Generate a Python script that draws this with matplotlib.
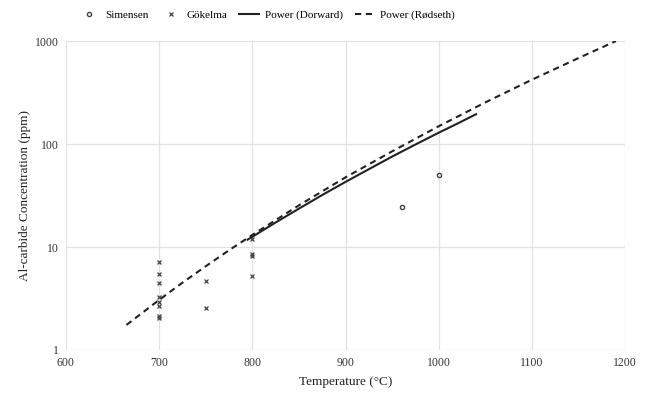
import matplotlib
matplotlib.use("Agg")
import matplotlib.pyplot as plt
from matplotlib.ticker import FixedLocator, FixedFormatter

plt.rcParams['font.family'] = ['Liberation Serif', 'DejaVu Serif']

# Simensen measurements
sim_t = [960, 1000]
sim_c = [24.3, 50.5]

# Gökelma measurements
gok_t = [700, 700, 700, 700, 700, 700, 700, 700, 750, 750, 800, 800, 800, 800]
gok_c = [7.15, 5.45, 4.45, 3.25, 2.9, 2.7, 2.15, 2.05, 4.7, 2.55, 12.0, 8.6, 8.1, 5.25]

# power trend lines
dor_t = [795, 825, 850, 875, 900, 925, 950, 975, 1000, 1020, 1040]
dor_c = [11.8, 17.3, 23.6, 32.0, 42.9, 57.0, 75.6, 99.0, 129.0, 158.0, 195.0]

rod_t = [665, 700, 725, 750, 775, 800, 850, 900, 950, 1000, 1050, 1100, 1150, 1190]
rod_c = [1.75, 3.06, 4.5, 6.5, 9.3, 13.1, 25.4, 47.5, 85.0, 149.0, 254.0, 422.0, 685.0, 1000.0]

x_ticks = [600, 700, 800, 900, 1000, 1100, 1200]
y_ticks = [1, 10, 100, 1000]
y_labels = ['1', '10', '100', '1000']

fig = plt.figure(figsize=(6.52, 3.95), dpi=100)
ax = fig.add_axes([0.101, 0.114, 0.858, 0.782])

ax.plot(sim_t, sim_c, 'o', ms=3, mfc='none', mec='#444444', mew=1.0, label='Simensen')
ax.plot(gok_t, gok_c, 'x', ms=3.5, color='#444444', mew=0.9, label='Gökelma')
ax.plot(dor_t, dor_c, '-', color='#222222', lw=1.5, label='Power (Dorward)')
ax.plot(rod_t, rod_c, '--', color='#222222', lw=1.5, dashes=(3, 2.2), label='Power (Rødseth)')

ax.set_yscale('log')
ax.set_xlim(600, 1200)
ax.set_ylim(1, 1000)
ax.set_xticks(x_ticks)
ax.yaxis.set_major_locator(FixedLocator(y_ticks))
ax.yaxis.set_major_formatter(FixedFormatter(y_labels))
ax.yaxis.set_minor_locator(FixedLocator([]))
ax.tick_params(length=0, labelsize=8.5, colors='#333333', pad=5)
ax.grid(True, color='#e2e2e2', lw=0.9)
ax.set_axisbelow(True)
for s in ax.spines.values():
    s.set_visible(False)

ax.set_xlabel('Temperature (°C)', fontsize=9.5, color='#222222', labelpad=5)
ax.set_ylabel('Al-carbide Concentration (ppm)', fontsize=9.5, color='#222222', labelpad=3)

fig.legend(loc='upper center', bbox_to_anchor=(0.41, 1.0), ncol=4, frameon=False,
           fontsize=8, handlelength=1.8, columnspacing=1.1, handletextpad=0.5)

fig.savefig('out.png', dpi=100)
